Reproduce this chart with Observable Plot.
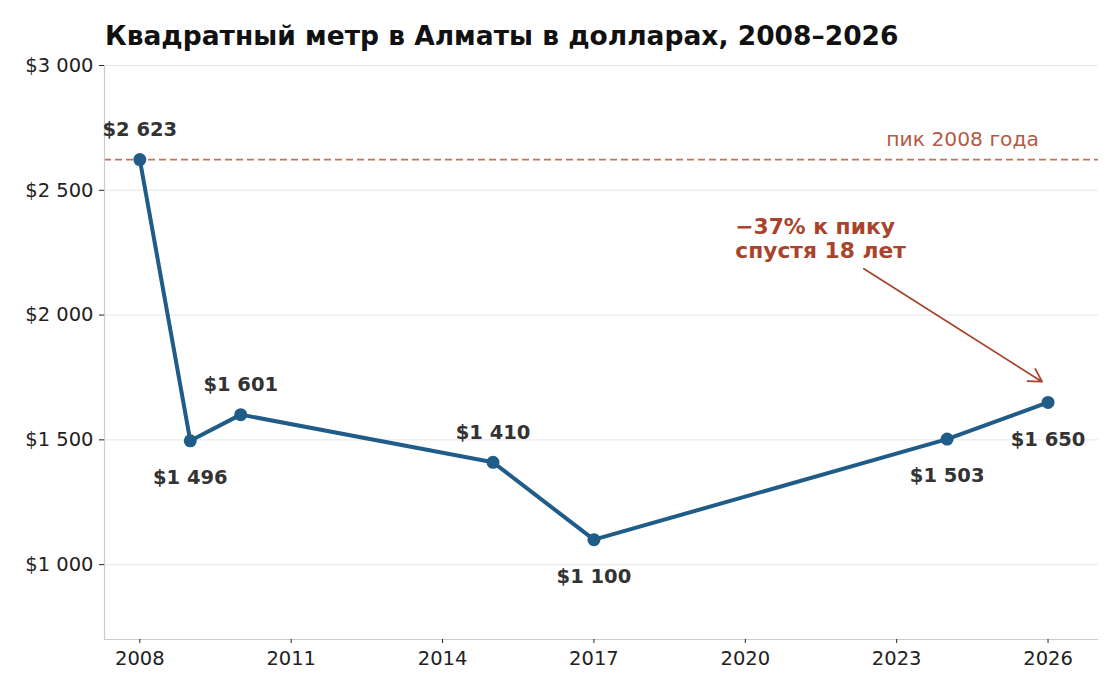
<!DOCTYPE html>
<html>
<head>
<meta charset="utf-8">
<script src="https://cdn.jsdelivr.net/npm/d3@7"></script>
<script src="https://cdn.jsdelivr.net/npm/@observablehq/plot@0.6"></script>
<style>
  body { margin: 0; background: #fff; font-family: "DejaVu Sans", sans-serif; }
  #title { position: relative; height: 50px; }
  #title span { position: absolute; left: 105px; top: 20px; font-size: 26.5px; font-weight: bold; color: #111; white-space: nowrap; }
  #chart svg { display: block; }
</style>
</head>
<body>
<div id="title"><span>Квадратный метр в Алматы в долларах, 2008–2026</span></div>
<div id="chart"></div>
<script>
// Price per square metre in Almaty, USD
const years  = [2008, 2009, 2010, 2015, 2017, 2024, 2026];
const prices = [2623, 1496, 1601, 1410, 1100, 1503, 1650];
const labelSide = ["above", "below", "above", "above", "below", "below", "below"];

const yTicks = [1000, 1500, 2000, 2500, 3000];
const xTicks = [2008, 2011, 2014, 2017, 2020, 2023, 2026];

const peakPrice = 2623;
const peakLabel = "пик 2008 года";
const noteText = "−37% к пику\nспустя 18 лет";

const money = d => "$" + d3.format(",")(d).replace(/,/g, " ");

const data = years.map((year, i) => ({year, price: prices[i], side: labelSide[i]}));

const blue = "#1f5c87";
const rust = "#a9432b";

const chart = Plot.plot({
  width: 1120,
  height: 642,
  marginTop: 15,
  marginLeft: 104,
  marginRight: 22,
  marginBottom: 53,
  style: { fontFamily: "DejaVu Sans, sans-serif", fontSize: "19.5px", color: "#222", background: "#fff" },
  x: { type: "linear", domain: [2007.3, 2027] },
  y: { domain: [700, 3000] },
  marks: [
    Plot.gridY(yTicks, { stroke: "#e6e6e6", strokeOpacity: 1, strokeWidth: 1 }),
    Plot.ruleY([peakPrice], { stroke: "#c0735e", strokeWidth: 1.8, strokeDasharray: "7,4" }),
    Plot.ruleX([2007.3], { stroke: "#cccccc", strokeWidth: 1.2 }),
    Plot.ruleY([700], { stroke: "#cccccc", strokeWidth: 1.2 }),
    Plot.axisY(yTicks, { tickFormat: money, tickSize: 5, tickPadding: 6, label: null }),
    Plot.axisX(xTicks, { tickFormat: d => String(d), tickSize: 4, tickPadding: 8, label: null }),
    Plot.line(data, { x: "year", y: "price", stroke: blue, strokeWidth: 4 }),
    Plot.dot(data, { x: "year", y: "price", r: 6.5, fill: blue }),
    Plot.text(data.filter(d => d.side === "above"), {
      x: "year", y: "price", text: d => money(d.price), dy: -30,
      fontWeight: "bold", fontSize: 19.5, fill: "#333"
    }),
    Plot.text(data.filter(d => d.side === "below"), {
      x: "year", y: "price", text: d => money(d.price), dy: 37,
      fontWeight: "bold", fontSize: 19.5, fill: "#333"
    }),
    Plot.text([peakLabel], {
      x: 2025.82, y: 2703, text: d => d, textAnchor: "end",
      fill: "#b35a44", fontSize: 20.3
    }),
    Plot.text([noteText], {
      x: 2019.8, y: 2307, text: d => d, textAnchor: "start", lineHeight: 1.1,
      fontWeight: "bold", fontSize: 21.8, fill: rust
    }),
    Plot.arrow([{ x1: 2022.35, y1: 2186, x2: 2025.88, y2: 1733 }], {
      x1: "x1", y1: "y1", x2: "x2", y2: "y2",
      stroke: rust, strokeWidth: 1.8, headLength: 12
    })
  ]
});

document.getElementById("chart").appendChild(chart);
</script>
</body>
</html>
